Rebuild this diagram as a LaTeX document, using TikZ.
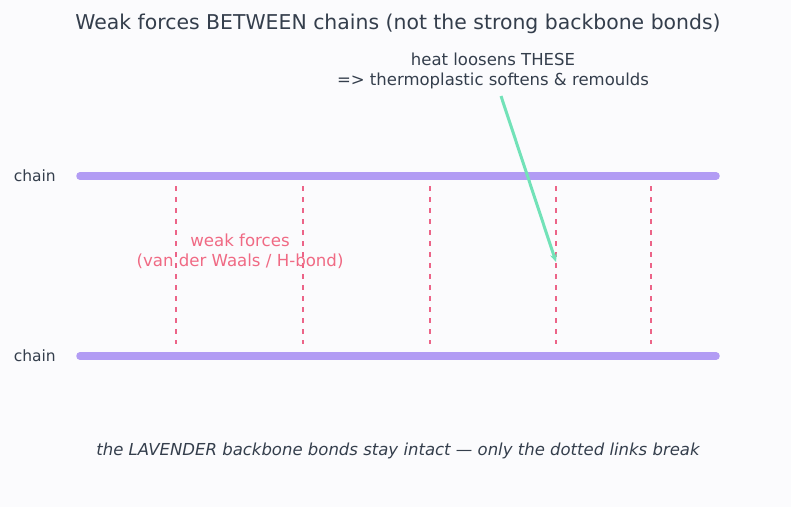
\documentclass[tikz,border=0pt]{standalone}
\usepackage{fontspec}
\setmainfont{DejaVu Sans}
\usetikzlibrary{arrows.meta}
\definecolor{bgc}{HTML}{FBFBFD}
\definecolor{txt}{HTML}{343E4C}
\definecolor{lav}{HTML}{B29CF4}
\definecolor{pinkred}{HTML}{F06A84}
\definecolor{linkc}{HTML}{EC6488}
\definecolor{mint}{HTML}{72E2B8}
\tikzset{
  chainline/.style={draw=lav, line width=7.5pt, line cap=round},
  weaklink/.style={draw=linkc, line width=2.2pt, dash pattern=on 4.5pt off 6.5pt},
  heatarrow/.style={draw=mint, line width=3pt, -{Stealth[length=8pt,width=7pt]}},
  lbl/.style={text=txt, font=\fontsize{15.5}{18}\selectfont, inner sep=0pt},
}
\begin{document}
\begin{tikzpicture}[x=1pt,y=-1pt]
\fill[bgc] (0,0) rectangle (791,507);
\useasboundingbox (0,0) rectangle (791,507);
\node[lbl, font=\fontsize{20.4}{24}\selectfont] (title) at (398,23.5) {Weak forces BETWEEN chains (not the strong backbone bonds)};
\node[lbl, anchor=east] (c1) at (56,176) {chain};
\node[lbl, anchor=east] (c2) at (56,356) {chain};
\coordinate (t1) at (80,176);
\coordinate (t2) at (716,176);
\coordinate (b1) at (80,356);
\coordinate (b2) at (716,356);
\draw[chainline] (t1) -- (t2);
\draw[chainline] (b1) -- (b2);
\foreach \x/\n in {176/1,303/2,430/3,556/4,651/5}{
  \coordinate (u\n) at (\x,186);
  \coordinate (d\n) at (\x,344);
  \draw[weaklink] (u\n) -- (d\n);
}
\node[lbl, text=pinkred, align=center, font=\fontsize{16.6}{20}\selectfont] (weak) at (240,251.5) {weak forces\\(van der Waals / H-bond)};
\node[lbl, align=center, font=\fontsize{16.5}{20}\selectfont] (heat) at (493,71) {heat loosens THESE\\=> thermoplastic softens \& remoulds};
\coordinate (as) at (501,96);
\coordinate (ae) at (556,262);
\draw[heatarrow] (as) -- (ae);
\node[lbl, font=\fontsize{16.5}{20}\selectfont\itshape] (note) at (398,451) {the LAVENDER backbone bonds stay intact — only the dotted links break};
\end{tikzpicture}
\end{document}
